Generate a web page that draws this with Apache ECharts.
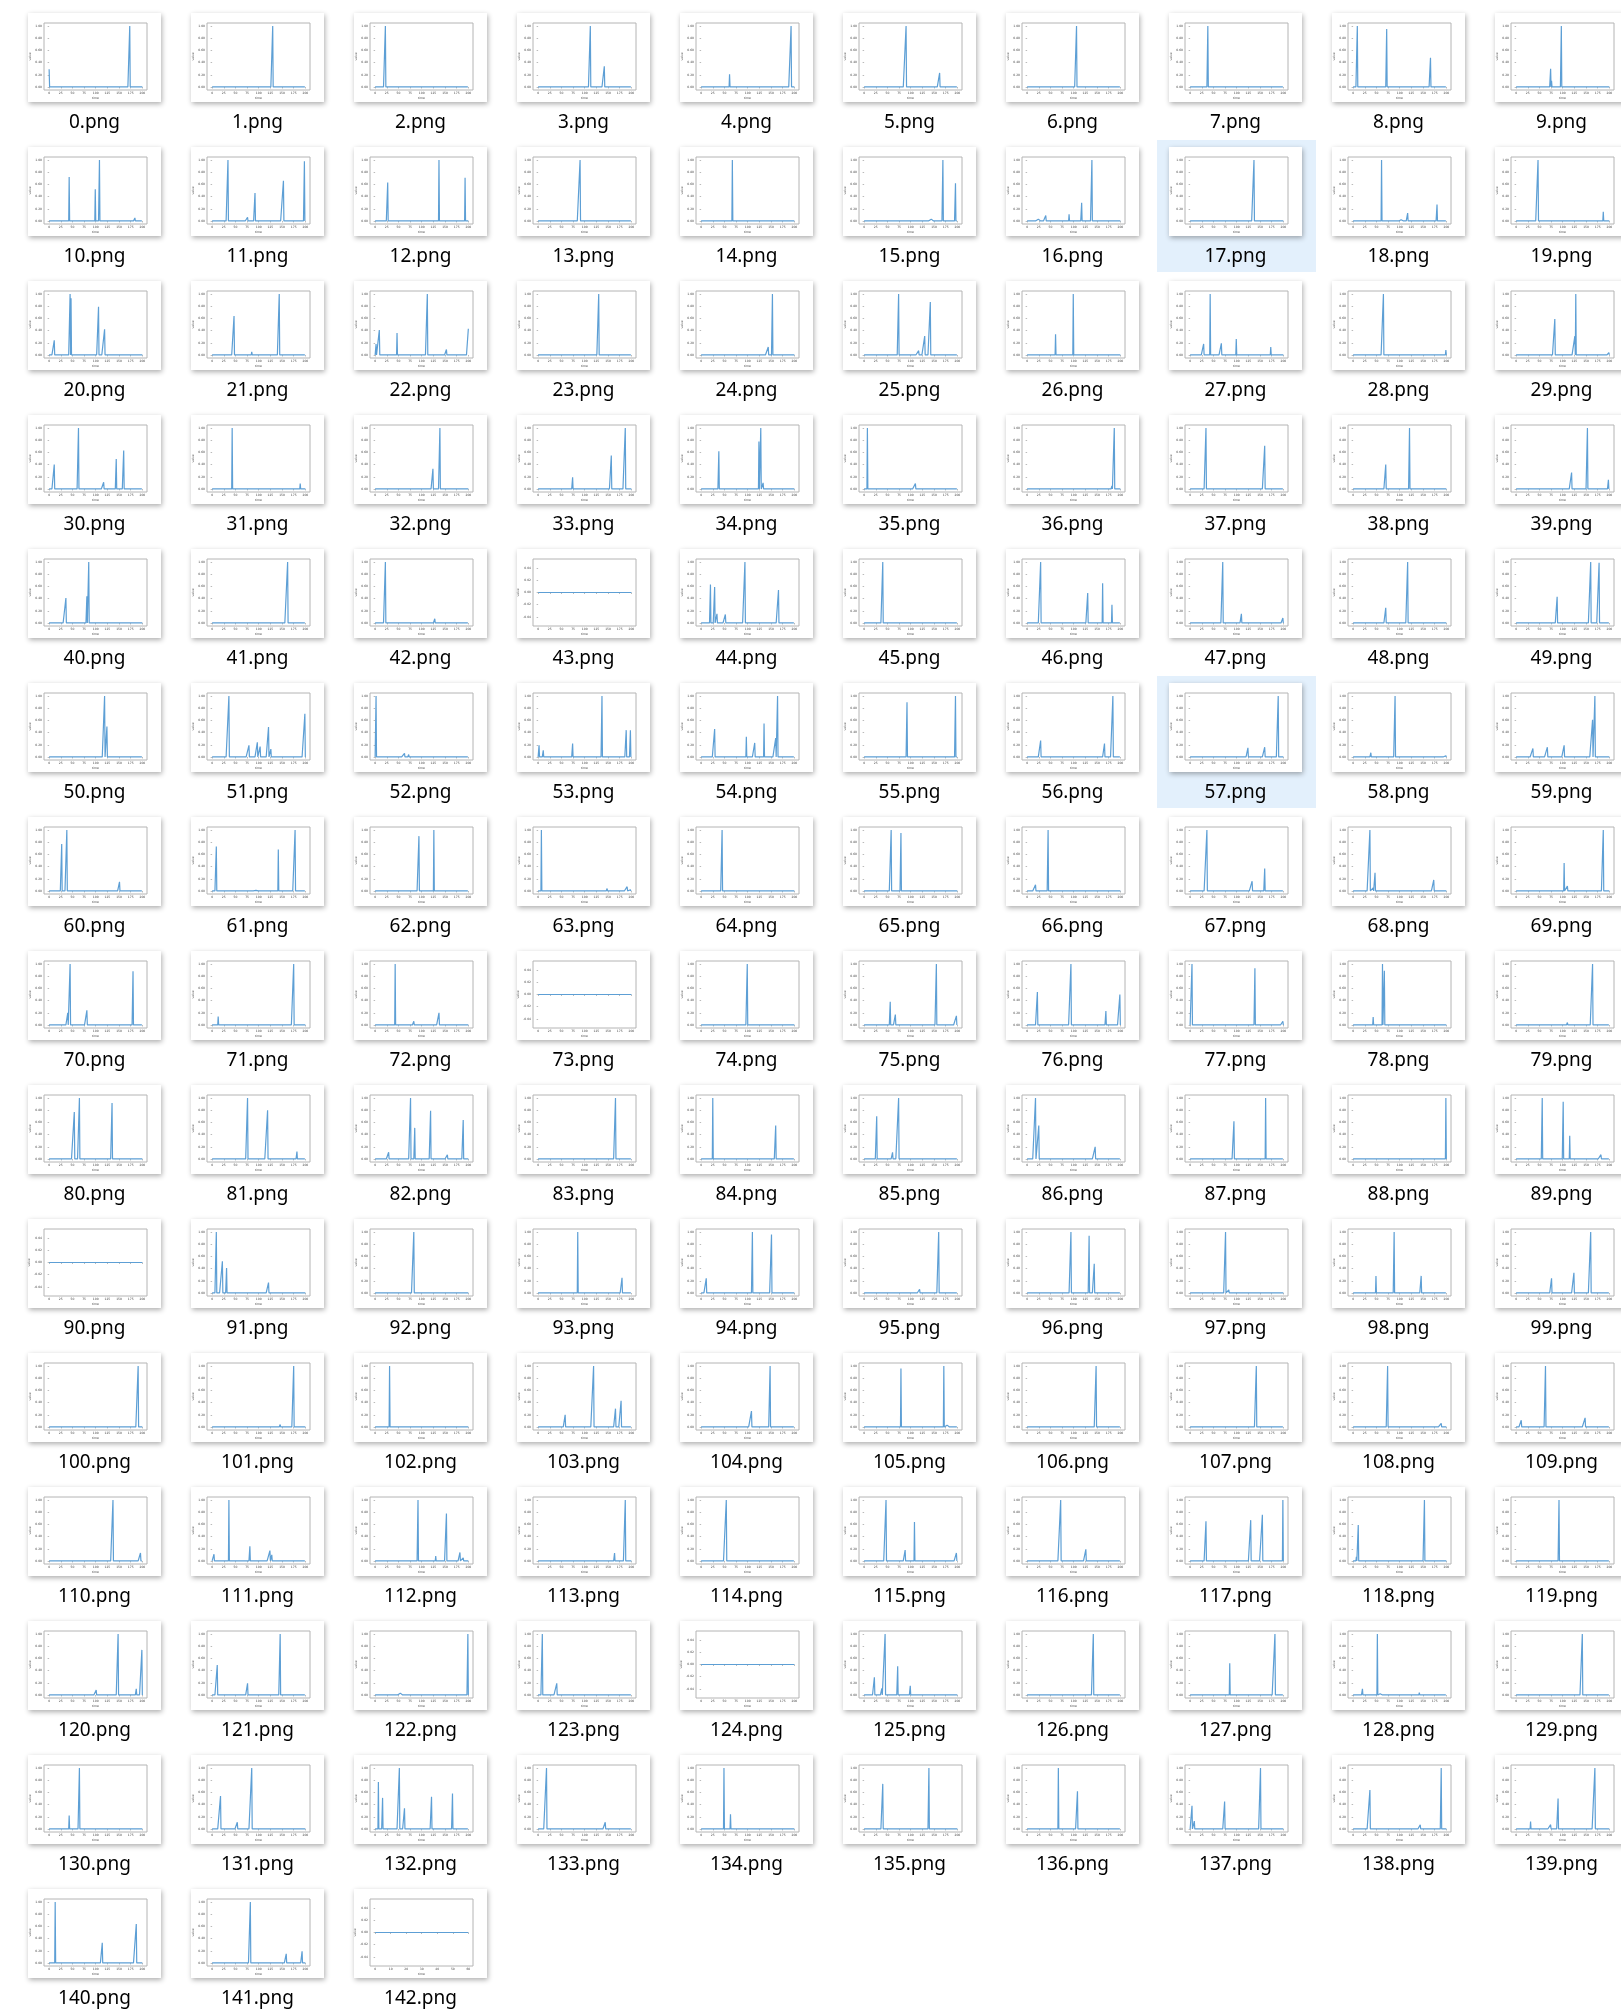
<!DOCTYPE html>
<html>
<head>
<meta charset="utf-8">
<style>
html,body{margin:0;padding:0;background:#fff;}
#chart{width:1621px;height:2013px;}
</style>
<script src="https://cdn.jsdelivr.net/npm/echarts@6/dist/echarts.min.js"></script>
</head>
<body>
<div id="chart"></div>
<script>
// Spike positions [x, height relative to the chart's tallest peak].
// Everything between spikes sits on the flat zero baseline.
const spikes = [
  [[0,0.29],[173,1]],
  [[130,1]],
  [[22,1]],
  [[112,1],[142,0.34]],
  [[61,0.21],[193,1],[195,0.03]],
  [[90,1],[162,0.23]],
  [[106,1]],
  [[38,1]],
  [[9,1],[72,0.95],[166,0.48]],
  [[74,0.30],[76,0.1],[97,1]],
  [[43,0.72],[99,0.52],[108,1],[184,0.05]],
  [[34,1],[76,0.06],[92,0.46],[153,0.66],[198,0.98]],
  [[27,0.63],[137,1],[193,0.71]],
  [[90,1]],
  [[67,1]],
  [[144,0.03],[169,1],[196,0.62]],
  [[24,0.03],[40,0.09],[90,0.11],[117,0.30],[139,1]],
  [[137,1]],
  [[13,0.03],[61,1],[103,0.02],[117,0.13],[180,0.27]],
  [[47,1],[187,0.15]],
  [[11,0.24],[45,1],[47,0.93],[106,0.79],[119,0.42]],
  [[47,0.64],[85,0.05],[144,1]],
  [[2,0.18],[9,0.41],[47,0.36],[112,1],[153,0.09],[200,0.43]],
  [[115,0.02],[130,1]],
  [[144,0.13],[153,1]],
  [[34,0.02],[74,1],[117,0.07],[130,0.31],[142,0.87]],
  [[61,0.34],[99,1]],
  [[29,0.18],[43,1],[67,0.19],[99,0.26],[173,0.13]],
  [[65,1],[99,0.02],[199,0.08]],
  [[83,0.59],[126,0.31],[128,1],[199,0.04]],
  [[11,0.40],[63,1],[117,0.11],[144,0.49],[160,0.63]],
  [[43,1],[189,0.09]],
  [[124,0.33],[133,0.02],[139,1]],
  [[74,0.19],[157,0.55],[187,1]],
  [[38,0.62],[124,0.78],[128,1],[133,0.1]],
  [[7,1],[110,0.09]],
  [[182,0.05],[187,1]],
  [[34,1],[160,0.71]],
  [[70,0.40],[121,1]],
  [[119,0.27],[153,1],[198,0.15]],
  [[36,0.41],[81,0.44],[85,1]],
  [[151,0.03],[162,1]],
  [[22,1],[128,0.07]],
  [],
  [[20,0.63],[25,0.02],[29,0.59],[34,0.15],[52,0.14],[94,1],[166,0.54]],
  [[40,1]],
  [[29,1],[130,0.49],[162,0.65],[182,0.30]],
  [[70,1],[110,0.15],[199,0.08]],
  [[70,0.25],[117,1]],
  [[88,0.43],[160,1],[178,0.99]],
  [[119,1],[124,0.50]],
  [[27,0.03],[36,1],[79,0.19],[97,0.24],[103,0.17],[121,0.49],[126,0.13],[199,0.71]],
  [[2,1],[63,0.06],[72,0.04]],
  [[2,0.19],[11,0.11],[74,0.22],[137,1],[189,0.44],[198,0.44]],
  [[29,0.46],[97,0.33],[115,0.23],[135,0.55],[160,0.31],[164,1]],
  [[92,0.90],[191,0.02],[196,1]],
  [[29,0.27],[166,0.22],[184,1]],
  [[124,0.15],[160,0.16],[189,1]],
  [[38,0.07],[90,1],[199,0.02]],
  [[36,0.14],[67,0.16],[103,0.19],[164,0.61],[169,1]],
  [[27,0.77],[38,1],[151,0.15],[198,0.02]],
  [[9,0.73],[94,0.01],[142,0.68],[178,1]],
  [[94,0.90],[126,1]],
  [[7,1],[148,0.04],[191,0.07],[198,0.02]],
  [[45,1]],
  [[58,1],[79,0.95]],
  [[18,0.10],[45,1]],
  [[36,1],[133,0.16],[160,0.37]],
  [[36,1],[43,0.05],[47,0.30],[173,0.18]],
  [[7,0.02],[103,0.46],[110,0.08],[187,1]],
  [[40,0.20],[45,1],[81,0.24],[180,0.88]],
  [[13,0.14],[175,1]],
  [[43,1],[83,0.06],[137,0.20]],
  [],
  [[99,1]],
  [[56,0.38],[67,0.17],[155,1],[198,0.15]],
  [[22,0.54],[94,1],[169,0.23],[199,0.50]],
  [[4,1],[139,0.93],[199,0.06]],
  [[43,0.13],[63,1],[67,0.89]],
  [[110,0.04],[164,1]],
  [[54,0.77],[65,1],[135,0.92]],
  [[76,1],[119,0.80],[182,0.12]],
  [[29,0.11],[76,1],[85,0.51],[119,0.79],[155,0.07],[189,0.64]],
  [[166,1]],
  [[25,1],[70,0.03],[160,0.55]],
  [[27,0.70],[61,0.11],[74,1]],
  [[18,1],[25,0.55],[146,0.20]],
  [[94,0.62],[162,1]],
  [[199,1]],
  [[56,1],[101,0.94],[115,0.38],[182,0.07]],
  [],
  [[9,1],[22,0.52],[31,0.41],[121,0.17]],
  [[83,1]],
  [[85,1],[180,0.25]],
  [[11,0.24],[110,1],[151,0.96]],
  [[119,0.06],[160,1]],
  [[94,1],[133,0.94],[144,0.48]],
  [[76,1],[83,0.05]],
  [[49,0.28],[88,1],[146,0.28]],
  [[76,0.24],[124,0.33],[160,1]],
  [[191,1]],
  [[146,0.04],[175,1]],
  [[31,1]],
  [[58,0.20],[119,1],[166,0.30],[178,0.43]],
  [[108,0.26],[148,1]],
  [[79,0.96],[171,1],[178,0.03],[184,0.03]],
  [[148,1]],
  [[142,1]],
  [[22,0.03],[74,1],[189,0.06]],
  [[11,0.11],[63,1],[148,0.15]],
  [[137,1],[148,0.03],[180,0.02],[196,0.13]],
  [[4,0.11],[36,1],[81,0.24],[124,0.17],[128,0.10]],
  [[92,1],[130,0.08],[153,0.78],[182,0.14],[189,0.05]],
  [[164,0.13],[187,1]],
  [[54,1]],
  [[47,1],[88,0.18],[108,0.64],[198,0.13]],
  [[72,1],[126,0.19]],
  [[34,0.65],[130,0.67],[155,0.76],[199,1]],
  [[7,0.07],[11,0.59],[153,1]],
  [[92,1]],
  [[101,0.08],[148,1],[187,0.10],[199,0.74]],
  [[11,0.49],[76,0.19],[146,1]],
  [[54,0.03],[199,1]],
  [[9,1],[40,0.19]],
  [],
  [[22,0.29],[38,0.11],[45,1],[72,0.47],[99,0.15]],
  [[142,1]],
  [[85,0.52],[182,1]],
  [[20,0.10],[52,1],[58,0.02],[142,0.04]],
  [[88,0.03],[142,1]],
  [[43,0.22],[65,1]],
  [[18,0.54],[54,0.11],[85,1]],
  [[7,0.77],[16,0.51],[52,1],[63,0.34],[121,0.53],[166,0.58]],
  [[18,1],[144,0.11],[178,0.02]],
  [[49,1],[63,0.24]],
  [[40,0.74],[139,1]],
  [[67,1],[108,0.62]],
  [[4,0.38],[9,0.13],[74,0.45],[151,1]],
  [[36,0.64],[144,0.07],[189,1]],
  [[31,0.12],[74,0.07],[90,0.50],[169,1]],
  [[13,1],[114,0.33],[187,0.64]],
  [[82,1],[159,0.15],[193,0.19]],
  []
];
const fileNames = spikes.map((_, i) => i + '.png');
const xTicks = [0, 25, 50, 75, 100, 125, 150, 175, 200];
const xTicksShort = [0, 10, 20, 30, 40, 50, 60];
const shortCharts = [142];       // thumbnails whose x axis runs 0..60
const selectedCharts = [17, 57]; // highlighted items in the file view
const xAxisName = 'time';
const yAxisName = 'value';

// ---- layout (file-view geometry) ----
const COLS = 10, X0 = 28, DX = 163, Y0 = 13, DY = 134, CW = 133, CH = 89;
const lineColor = '#5d9fd5';

const grids = [], xAxes = [], yAxes = [], series = [], graphics = [];

spikes.forEach((sp, i) => {
  const c = i % COLS, r = Math.floor(i / COLS);
  const L = X0 + DX * c, T = Y0 + DY * r;
  const isShort = shortCharts.includes(i);
  const ticks = isShort ? xTicksShort : xTicks;
  const xEnd = ticks[ticks.length - 1];
  const flat = sp.length === 0;

  if (selectedCharts.includes(i)) {
    graphics.push({type:'rect', z:-20, shape:{x:L-12, y:T-7, width:159, height:132},
      style:{fill:'#e3f0fc'}});
  }
  graphics.push({type:'rect', z:-10, shape:{x:L, y:T, width:CW, height:CH},
    style:{fill:'#ffffff', shadowBlur:5, shadowOffsetX:1, shadowOffsetY:2, shadowColor:'rgba(0,0,0,0.32)'}});
  graphics.push({type:'text', z:-10, x:L + CW/2, y:T + 109.5,
    style:{text:fileNames[i], fill:'#000', font:'19px "Noto Sans", "Open Sans", sans-serif',
      align:'center', verticalAlign:'middle'}});

  grids.push({left:L+16, top:T+10, width:103, height:67, show:true,
    borderColor:'#b4b4b4', borderWidth:1, backgroundColor:'rgba(0,0,0,0)'});

  const span = xEnd * 1.105;
  xAxes.push({type:'value', gridIndex:i, min:-xEnd*0.055, max:-xEnd*0.055 + span,
    name:xAxisName, nameLocation:'middle', nameGap:7,
    nameTextStyle:{fontSize:3, color:'#444', fontFamily:'DejaVu Sans'},
    axisLine:{show:false}, splitLine:{show:false},
    axisTick:{show:true, length:1.5, customValues:ticks, lineStyle:{color:'#777', width:0.5}},
    axisLabel:{fontSize:3, margin:2, color:'#444', fontFamily:'DejaVu Sans', customValues:ticks}});

  yAxes.push({type:'value', gridIndex:i,
    min: flat ? -0.055 : -0.05, max: flat ? 0.055 : 1.05, splitNumber:6,
    name:yAxisName, nameLocation:'middle', nameGap:11,
    nameTextStyle:{fontSize:3, color:'#444', fontFamily:'DejaVu Sans'},
    axisLine:{show:false}, splitLine:{show:false},
    axisTick:{show:true, length:1.5, lineStyle:{color:'#777', width:0.5}},
    axisLabel:{fontSize:3, margin:2, color:'#444', fontFamily:'DejaVu Sans',
      showMinLabel:false, showMaxLabel:false,
      formatter: v => v.toFixed(2)}});

  const lookup = new Map(sp.map(p => [p[0], p[1]]));
  const data = [];
  for (let x = 0; x <= xEnd; x++) data.push([x, lookup.has(x) ? lookup.get(x) : 0]);

  series.push({type:'line', xAxisIndex:i, yAxisIndex:i, data, showSymbol:false,
    symbol:'none', silent:true, animation:false,
    lineStyle:{color:lineColor, width:1.2, join:'bevel', cap:'butt'}});
});

const chart = echarts.init(document.getElementById('chart'), null, {renderer:'canvas'});
chart.setOption({
  animation:false,
  backgroundColor:'#ffffff',
  grid:grids, xAxis:xAxes, yAxis:yAxes, series,
  graphic:{elements:graphics}
});
</script>
</body>
</html>
